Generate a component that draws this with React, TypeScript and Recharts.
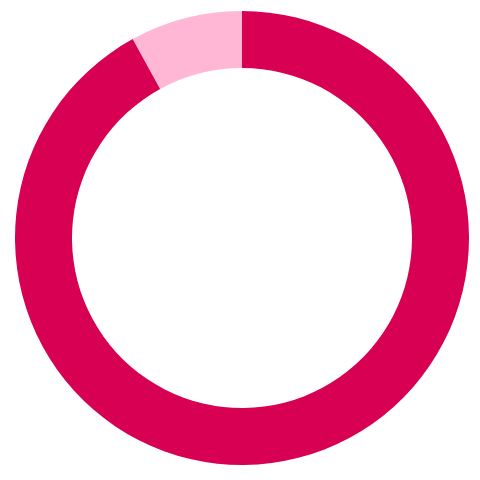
import { PieChart, Pie, Cell } from "recharts";

const labels = ["Other", "Main"];
const values = [8, 92];
const colors = ["#ffb7d5", "#d70053"];

const data = labels.map((name, i) => ({ name, value: values[i] }));

export default function App() {
  return (
    <div style={{ margin: -8, width: 480, height: 480 }}>
      <PieChart width={480} height={480} margin={{ top: 0, right: 0, bottom: 0, left: 0 }}>
        <Pie
          data={data}
          dataKey="value"
          cx={242}
          cy={238}
          innerRadius={170}
          outerRadius={227}
          startAngle={90}
          endAngle={450}
          stroke="none"
          isAnimationActive={false}
        >
          {data.map((d, i) => (
            <Cell key={d.name} fill={colors[i]} />
          ))}
        </Pie>
      </PieChart>
    </div>
  );
}
